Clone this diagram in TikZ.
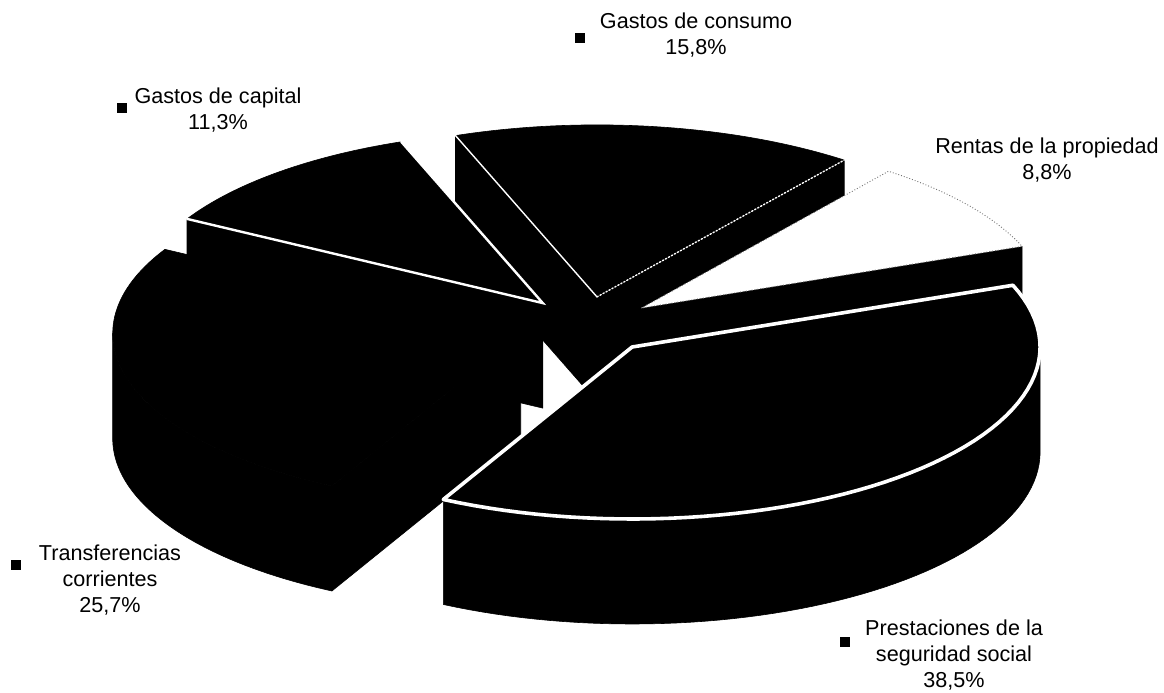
\documentclass[tikz,border=0pt]{standalone}
\usepackage{fontspec}
\setmainfont{Liberation Sans}
\newcommand\pieRX{408}
\newcommand\pieRY{172}
\newcommand\pieH{105}
\begin{document}
\begin{tikzpicture}[x=1pt,y=-1pt,
  face/.style={fill=black,draw=black,line width=0.6pt,line join=round},
  lightface/.style={fill=white,draw=black!55,line width=0.9pt,dotted},
  rim/.style={draw=white,line width=3.6pt,line join=round,line cap=round},
  thinrim/.style={draw=white,line width=2.4pt,line cap=round},
  hairrim/.style={draw=white,line width=1.4pt,line cap=round},
  lbl/.style={align=center,inner sep=0pt,font=\fontsize{21.6}{26}\selectfont},
  key/.style={fill=black,draw=none,minimum size=9.5pt,inner sep=0pt},
  arcs/.style={samples=60,variable=\t}]
\useasboundingbox (0,0) rectangle (1164,693);

% ---- Gastos de consumo (apex 597.0,296.9; -110.3 .. -52.72)
\path[face] (597.0,296.9) -- (455.5,135.6) -- (455.5,240.6) -- (597.0,401.9) -- cycle;
\path[face] (597.0,296.9) -- (844.2,160.1) -- (844.2,265.1) -- (597.0,401.9) -- cycle;
\path[face] (597.0,296.9) -- plot[arcs,domain=-110.3:-52.72]({597.0+\pieRX*cos(\t)},{296.9+\pieRY*sin(\t)}) -- cycle;
\draw[hairrim] (455.5,135.6) -- (597.0,296.9);
\draw[hairrim,dotted] (597.0,296.9) -- (844.2,160.1);

% ---- Gastos de capital (apex 542.8,303.1; -150.7 .. -110.3)
\path[face] (542.8,303.1) -- (187.0,218.9) -- (187.0,323.9) -- (542.8,408.1) -- cycle;
\path[face] (542.8,303.1) -- plot[arcs,domain=-150.7:-110.3]({542.8+\pieRX*cos(\t)},{303.1+\pieRY*sin(\t)}) -- cycle;
\draw[thinrim] (187.0,218.9) -- (542.8,303.1) -- (401.3,141.8);

% ---- Rentas de la propiedad (apex 641.3,308.1; -52.72 .. -21.04)
\path[face] (641.3,308.1) -- (1022.1,246.4) -- (1022.1,351.4) -- (641.3,413.1) -- cycle;
\path[lightface] (641.3,308.1) -- plot[arcs,domain=-52.72:-21.04]({641.3+\pieRX*cos(\t)},{308.1+\pieRY*sin(\t)}) -- cycle;

% ---- Transferencias corrientes (apex 520.7,333.5; 117.56 .. 209.3)
\path[face] (520.7,333.5) -- (331.9,486.0) -- (331.9,591.0) -- (520.7,438.5) -- cycle;
\path[face] plot[arcs,domain=117.56:180]({520.7+\pieRX*cos(\t)},{333.5+\pieRY*sin(\t)})
  -- plot[arcs,domain=180:117.56]({520.7+\pieRX*cos(\t)},{333.5+\pieH+\pieRY*sin(\t)}) -- cycle;
\path[face] (520.7,333.5) -- plot[arcs,domain=117.56:209.3]({520.7+\pieRX*cos(\t)},{333.5+\pieRY*sin(\t)}) -- cycle;

% ---- Prestaciones de la seguridad social (apex 632.1,347.0; -21.04 .. 117.56)
\path[face] plot[arcs,domain=0:117.56]({632.1+\pieRX*cos(\t)},{347.0+\pieRY*sin(\t)})
  -- plot[arcs,domain=117.56:0]({632.1+\pieRX*cos(\t)},{347.0+\pieH+\pieRY*sin(\t)}) -- cycle;
\path[face] (632.1,347.0) -- plot[arcs,domain=-21.04:117.56]({632.1+\pieRX*cos(\t)},{347.0+\pieRY*sin(\t)}) -- cycle;
\draw[rim] (632.1,347.0) -- plot[arcs,domain=-21.04:117.56]({632.1+\pieRX*cos(\t)},{347.0+\pieRY*sin(\t)}) -- cycle;

% ---- labels
\node[lbl] (tcon) at (696,35) {Gastos de consumo\\15,8\%};
\node[key] (kcon) at (580,38) {};
\node[lbl] (tcap) at (218,110) {Gastos de capital\\11,3\%};
\node[key] (kcap) at (122,108) {};
\node[lbl] (tren) at (1047,160) {Rentas de la propiedad\\8,8\%};
\node[lbl] (ttra) at (110,580) {Transferencias\\corrientes\\25,7\%};
\node[key] (ktra) at (16,565) {};
\node[lbl] (tpre) at (954,655) {Prestaciones de la\\seguridad social\\38,5\%};
\node[key] (kpre) at (845,642) {};
\end{tikzpicture}
\end{document}
